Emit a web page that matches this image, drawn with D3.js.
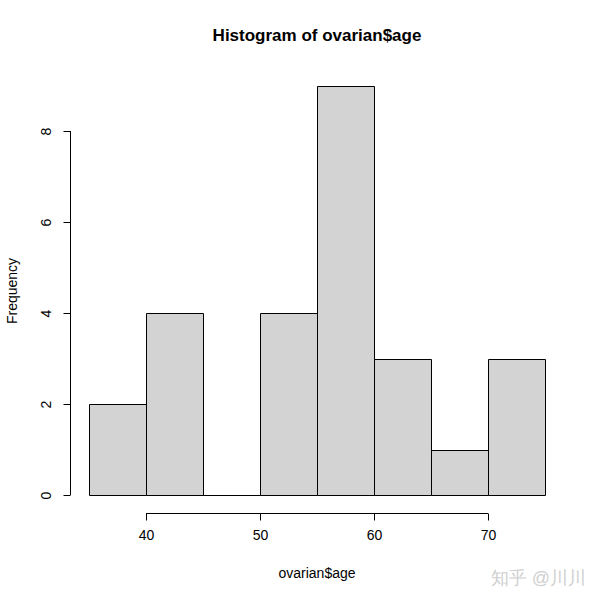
<!DOCTYPE html>
<html><head><meta charset="utf-8">
<script src="https://cdn.jsdelivr.net/npm/d3@7"></script>
<style>body{margin:0;background:#fff}svg{display:block}text{font-family:"Liberation Sans",Arial,Helvetica,sans-serif}</style>
</head><body>
<script>
const binStarts = [35, 40, 45, 50, 55, 60, 65, 70];
const binWidth = 5;
const counts = [2, 4, 0, 4, 9, 3, 1, 3];
const xTicks = [40, 50, 60, 70];
const yTicks = [0, 2, 4, 6, 8];
const titleText = "Histogram of ovarian$age";
const xLabel = "ovarian$age";
const yLabel = "Frequency";
const watermark = "知乎 @川川";

const W = 600, H = 600;
const svg = d3.select("body").append("svg").attr("width", W).attr("height", H);

const x = d3.scaleLinear().domain([35, 75]).range([89, 545]);
const y = d3.scaleLinear().domain([0, 8]).range([495, 131]);

// bars (paths so zero-height bins still show as a line)
svg.append("g").selectAll("path").data(counts).join("path")
  .attr("d", (d, i) => {
    const x0 = Math.round(x(binStarts[i])) + 0.5;
    const x1 = Math.round(x(binStarts[i] + binWidth)) + 0.5;
    const y0 = Math.round(y(0)) + 0.5;
    const y1 = Math.round(y(d)) + 0.5;
    return `M${x0},${y0}V${y1}H${x1}V${y0}Z`;
  })
  .attr("fill", "#d3d3d3").attr("stroke", "#000").attr("stroke-width", 1);

// x axis
const xAxis = svg.append("g").attr("transform", "translate(0,513.5)")
  .call(d3.axisBottom(x).tickValues(xTicks).tickSize(7).tickPadding(10).tickSizeOuter(0));
xAxis.select(".domain").attr("d", `M${x(40)},0H${x(70)}`).attr("stroke", "#000");
xAxis.selectAll("text").attr("font-size", 14).attr("fill", "#000");
xAxis.selectAll(".tick line").attr("stroke", "#000");

// y axis
const yAxis = svg.append("g").attr("transform", "translate(70.5,0)")
  .call(d3.axisLeft(y).tickValues(yTicks).tickSize(7).tickSizeOuter(0).tickFormat(d3.format("d")));
yAxis.select(".domain").attr("d", `M0,${y(0)}V${y(8)}`).attr("stroke", "#000");
yAxis.selectAll(".tick line").attr("stroke", "#000");
yAxis.selectAll("text").attr("font-size", 14).attr("fill", "#000")
  .attr("x", null).attr("dy", null)
  .attr("transform", "translate(-25,0) rotate(-90)")
  .attr("text-anchor", "middle").attr("dominant-baseline", "central");

// titles
svg.append("text").attr("x", 317).attr("y", 41).attr("text-anchor", "middle")
  .attr("font-size", 17).attr("font-weight", "bold").text(titleText);
svg.append("text").attr("x", 317).attr("y", 578).attr("text-anchor", "middle")
  .attr("font-size", 14).text(xLabel);
svg.append("text").attr("transform", "translate(17,291) rotate(-90)").attr("text-anchor", "middle")
  .attr("font-size", 14).text(yLabel);

// watermark
svg.append("text").attr("x", 586).attr("y", 584).attr("text-anchor", "end")
  .attr("font-size", 18).attr("fill", "#cfcfcf")
  .attr("font-family", "'Noto Sans CJK SC', sans-serif").text(watermark);
</script>
</body></html>
